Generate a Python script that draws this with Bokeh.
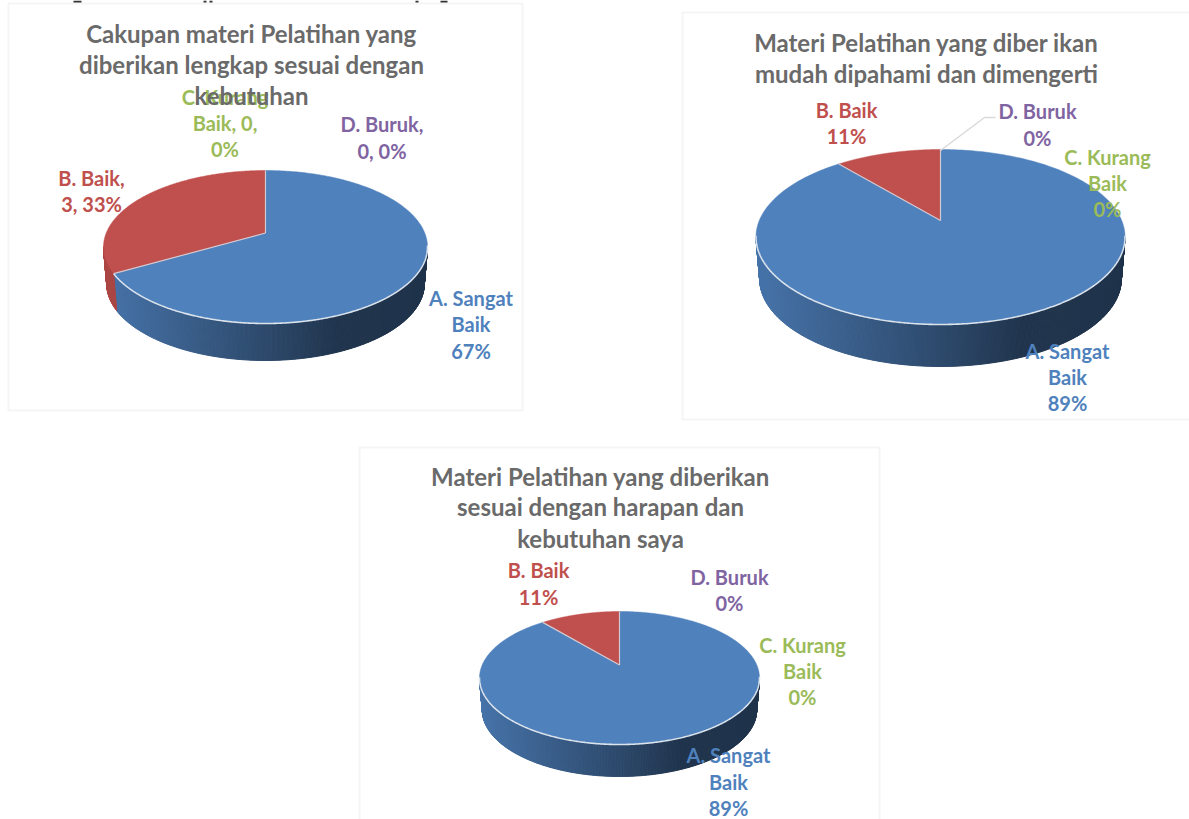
import numpy as np
from bokeh.core.properties import value
from bokeh.embed import file_html
from bokeh.models import Range1d
from bokeh.plotting import figure
from bokeh.resources import INLINE

# ---- data -------------------------------------------------------------
categories = ["A. Sangat Baik", "B. Baik", "C. Kurang Baik", "D. Buruk"]
values_1 = [6, 3, 0, 0]
values_2 = [8, 1, 0, 0]
values_3 = [8, 1, 0, 0]

title_1 = ["Cakupan materi Pelatihan yang", "diberikan lengkap sesuai dengan", "kebutuhan"]
title_2 = ["Materi Pelatihan yang diber ikan", "mudah dipahami dan dimengerti"]
title_3 = ["Materi Pelatihan yang diberikan", "sesuai dengan harapan dan", "kebutuhan saya"]

labels_1 = [["A. Sangat", "Baik", "67%"], ["B. Baik,", "3, 33%"], ["C. Kurang", "Baik, 0,", "0%"], ["D. Buruk,", "0, 0%"]]
labels_2 = [["A. Sangat", "Baik", "89%"], ["B. Baik", "11%"], ["C. Kurang", "Baik", "0%"], ["D. Buruk", "0%"]]
labels_3 = [["A. Sangat", "Baik", "89%"], ["B. Baik", "11%"], ["C. Kurang", "Baik", "0%"], ["D. Buruk", "0%"]]

# ---- style and layout -------------------------------------------------
FONT = "Lato"
COLORS = ["#4f81bd", "#c0504d", "#9bbb59", "#8064a2"]
LABEL_COLORS = ["#4f81bd", "#c0504d", "#9bbb59", "#8064a2"]
BASE_RGB = [(79, 129, 189), (192, 80, 77), (155, 187, 89), (128, 100, 162)]
TITLE_COLOR = "#6a6a6a"
RIM = "#dbe3ec"
PANEL_LINE = "#f5f5f5"
TEXT_DY = -1
# tails of the page text cut off by the top edge of the source image
tail_x0 = [73, 203, 209, 415, 440]
tail_x1 = [81, 206, 212, 418, 447]

charts = [
    dict(values=values_1, title=title_1, labels=labels_1,
         panel=(8, 3, 522, 410), cx=265, cy=246.5, rx=162, ry=76.5, tilt=0.183, depth=37,
         title_x=251, title_y=[34, 65, 96],
         label_x=[470.5, 91, 224.5, 381.5],
         label_y=[[298, 324, 351], [178, 204], [97, 123, 149], [124, 151]], leader=None),
    dict(values=values_2, title=title_2, labels=labels_2,
         panel=(682, 12, 1195, 419), cx=940, cy=236.5, rx=184.5, ry=87.5, tilt=0.189, depth=42,
         title_x=926, title_y=[43, 74],
         label_x=[1067, 846, 1107, 1037],
         label_y=[[351, 377, 403], [110, 136], [157, 183, 209], [111, 138]],
         leader=([940, 984, 995], [150, 117, 117])),
    dict(values=values_3, title=title_3, labels=labels_3,
         panel=(359, 447, 879, 825), cx=619, cy=677.5, rx=140, ry=66.5, tilt=0.195, depth=32,
         title_x=600, title_y=[477, 507, 539],
         label_x=[728, 538, 802, 729],
         label_y=[[755, 782, 808], [570, 597], [645, 671, 697], [577, 603]], leader=None),
]


def rim(theta, tilt):
    """Perspective projection of a point on the pie's circle (clockwise from top)."""
    u, v = np.sin(theta), np.cos(theta)
    d = 1 + tilt * v
    return u * np.sqrt(1 - tilt ** 2) / d, (v + tilt) / d


def shade(t):
    return np.interp(t, [0, 0.3, 0.5, 0.72, 1], [0.9, 0.7, 0.57, 0.41, 0.4])


p = figure(width=1189, height=819, output_backend="svg", toolbar_location=None,
           x_range=Range1d(0, 1189), y_range=Range1d(819, 0), min_border=0)
p.axis.visible = False
p.grid.visible = False
p.outline_line_color = None
p.background_fill_color = "white"
p.border_fill_color = "white"

for c in charts:
    x0, y0, x1, y1 = c["panel"]
    p.quad(left=[x0], right=[x1], top=[y0], bottom=[y1], fill_color="white", line_color=PANEL_LINE, line_width=2)

p.segment(x0=tail_x0, x1=tail_x1, y0=[1] * len(tail_x0), y1=[1] * len(tail_x0), line_color="#333333", line_width=2)

for c in charts:
    cx, cy, rx, ry, tilt, depth = c["cx"], c["cy"], c["rx"], c["ry"], c["tilt"], c["depth"]
    vals = np.array(c["values"], dtype=float)
    edges = np.concatenate([[0], np.cumsum(vals) / vals.sum()]) * 2 * np.pi

    # side wall: narrow strips shaded left to right, each in its slice's colour
    wx, wy, wc = [], [], []
    for i, val in enumerate(vals):
        if val == 0:
            continue
        th = np.linspace(edges[i], edges[i + 1], int(val / vals.sum() * 720) + 2)
        u, w = rim(th, tilt)
        for k in range(len(th) - 1):
            if w[k] > 0 and w[k + 1] > 0:
                continue
            xa, xb = cx + rx * u[k], cx + rx * u[k + 1]
            wx.append([xa, xb, cx + 0.98 * rx * u[k + 1], cx + 0.98 * rx * u[k]])
            wy.append([cy - ry * w[k], cy - ry * w[k + 1], cy - ry * w[k + 1] + depth, cy - ry * w[k] + depth])
            s = shade(((xa + xb) / 2 - (cx - rx)) / (2 * rx))
            r, g, b = BASE_RGB[i]
            wc.append("#%02x%02x%02x" % (int(r * s), int(g * s), int(b * s)))
    p.patches(wx, wy, fill_color=wc, line_color=wc, line_width=1)

    # top face
    apex_y = cy - ry * tilt
    for i, val in enumerate(vals):
        if val == 0:
            continue
        th = np.linspace(edges[i], edges[i + 1], 240)
        u, w = rim(th, tilt)
        p.patch(np.r_[cx, cx + rx * u], np.r_[apex_y, cy - ry * w], fill_color=COLORS[i], line_color=COLORS[i], line_width=0.5)

    # light edges: slice spokes and the front rim
    for i, val in enumerate(vals):
        if val == 0:
            continue
        u, w = rim(np.array([edges[i]]), tilt)
        p.line([cx, cx + rx * u[0]], [apex_y, cy - ry * w[0]], line_color=RIM, line_width=1.2, line_alpha=0.8)
    th = np.linspace(0, edges[1], 720)
    u, w = rim(th, tilt)
    mask = w <= 0.02
    p.line(cx + rx * u[mask], cy - ry * w[mask], line_color=RIM, line_width=1.6)

    if c["leader"]:
        p.line(c["leader"][0], c["leader"][1], line_color="#d9d9d9", line_width=1.5)

    # data labels
    for i, lines in enumerate(c["labels"]):
        p.text(x=[c["label_x"][i]] * len(lines), y=[v + TEXT_DY for v in c["label_y"][i]], text=lines,
               text_color=LABEL_COLORS[i], text_font=value(FONT), text_font_style="bold",
               text_font_size="20px", text_align="center", text_baseline="middle")

# titles go over the labels
for c in charts:
    p.text(x=[c["title_x"]] * len(c["title"]), y=[v + TEXT_DY for v in c["title_y"]], text=c["title"],
           text_color=TITLE_COLOR, text_font=value(FONT), text_font_style="bold",
           text_font_size="24px", text_align="center", text_baseline="middle")

open("out.html", "w").write(file_html(p, INLINE))
